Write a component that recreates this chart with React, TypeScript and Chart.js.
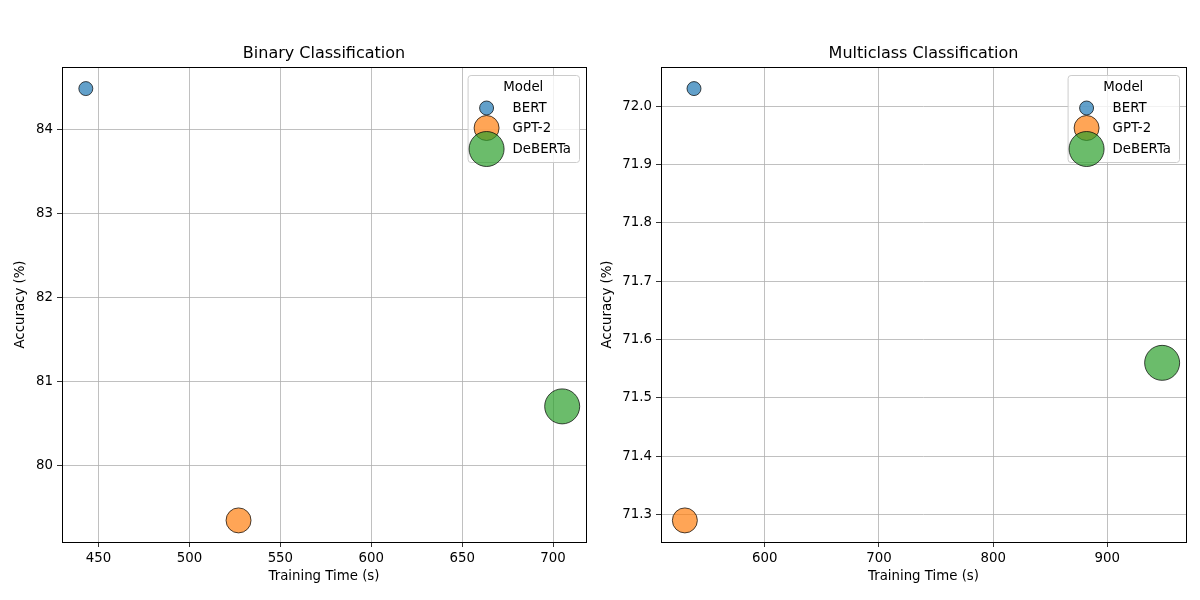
import React, { useEffect, useRef } from "react";
import { Chart, registerables } from "chart.js";

Chart.register(...registerables);

// ---------- data ----------
const models = ["BERT", "GPT-2", "DeBERTa"];
const binaryTime = [443, 527, 705];
const binaryAcc = [84.49, 79.34, 80.7];
const multiTime = [538, 530, 948];
const multiAcc = [72.03, 71.29, 71.56];
const binaryXTicksStep = 50;
const binaryYTicksStep = 1;
const multiXTicksStep = 100;
const multiYTicksStep = 0.1;

// ---------- style ----------
const FONT = '"DejaVu Sans", Verdana, sans-serif';
const fillColors = ["rgba(31,119,180,0.7)", "rgba(255,127,14,0.7)", "rgba(44,160,44,0.7)"];
const edgeColor = "rgba(0,0,0,0.7)";
const markerRadii = [7, 12.5, 17.5];

function paddedRange(vals: number[]) {
  const lo = Math.min(...vals);
  const hi = Math.max(...vals);
  const m = (hi - lo) * 0.05;
  return [lo - m, hi + m];
}

function decorPlugin(title: string, legendTitle: string) {
  return {
    id: "mplDecor",
    afterDraw(chart: any) {
      const { ctx, chartArea: a } = chart;
      ctx.save();
      // frame
      ctx.strokeStyle = "#000";
      ctx.lineWidth = 1;
      ctx.strokeRect(Math.round(a.left) + 0.5, Math.round(a.top) + 0.5, Math.round(a.right - a.left), Math.round(a.bottom - a.top));
      // title
      ctx.fillStyle = "#000";
      ctx.font = `16px ${FONT}`;
      ctx.textAlign = "center";
      ctx.textBaseline = "alphabetic";
      ctx.fillText(title, (a.left + a.right) / 2, a.top - 9);
      // legend
      const right = a.right - 7;
      const top = a.top + 8;
      ctx.font = `13.33px ${FONT}`;
      const labels = chart.data.datasets.map((d: any) => d.label);
      const maxW = Math.max(...labels.map((l: string) => ctx.measureText(l).width));
      const w = 45 + maxW + 8;
      const h = 87;
      const left = right - w;
      ctx.beginPath();
      ctx.roundRect(left + 0.5, top + 0.5, w, h, 3);
      ctx.fillStyle = "rgba(255,255,255,0.8)";
      ctx.fill();
      ctx.strokeStyle = "#cccccc";
      ctx.lineWidth = 1;
      ctx.stroke();
      ctx.fillStyle = "#000";
      ctx.textAlign = "center";
      ctx.fillText(legendTitle, left + w / 2, top + 16);
      const rows = [33, 53, 74];
      chart.data.datasets.forEach((d: any, i: number) => {
        const cy = top + rows[i];
        const cx = left + 19;
        ctx.beginPath();
        ctx.arc(cx, cy, d.pointRadius, 0, Math.PI * 2);
        ctx.fillStyle = d.backgroundColor;
        ctx.fill();
        ctx.strokeStyle = d.borderColor;
        ctx.lineWidth = 1;
        ctx.stroke();
      });
      ctx.fillStyle = "#000";
      ctx.textAlign = "left";
      ctx.textBaseline = "middle";
      chart.data.datasets.forEach((d: any, i: number) => {
        ctx.fillText(d.label, left + 45, top + rows[i] + 1);
      });
      ctx.restore();
    },
  };
}

function makeConfig(
  title: string,
  xs: number[],
  ys: number[],
  xStep: number,
  yStep: number,
  yDecimals: number,
  padLeft: number,
  padRight: number,
  yWidth: number
): any {
  const [xmin, xmax] = paddedRange(xs);
  const [ymin, ymax] = paddedRange(ys);
  const tickFont = { family: FONT, size: 13.33 };
  return {
    type: "scatter",
    data: {
      datasets: models.map((m, i) => ({
        label: m,
        data: [{ x: xs[i], y: ys[i] }],
        pointRadius: markerRadii[i],
        pointHoverRadius: markerRadii[i],
        backgroundColor: fillColors[i],
        borderColor: edgeColor,
        borderWidth: 1,
        clip: false,
      })),
    },
    options: {
      responsive: false,
      animation: false,
      devicePixelRatio: 1,
      layout: { autoPadding: false, padding: { top: 67, right: padRight, bottom: 15, left: padLeft } },
      plugins: { legend: { display: false }, title: { display: false }, tooltip: { enabled: false } },
      scales: {
        x: {
          type: "linear",
          min: xmin,
          max: xmax,
          afterFit: (s: any) => {
            s.height = 43;
            s.paddingLeft = 0;
            s.paddingRight = 0;
          },
          border: { display: false },
          grid: { color: "#b0b0b0", lineWidth: 0.8, tickLength: 5, tickColor: "#000", drawTicks: true },
          ticks: {
            stepSize: xStep,
            includeBounds: false,
            padding: 4,
            color: "#000",
            font: tickFont,
            maxRotation: 0,
            callback: (v: any) => String(Math.round(Number(v))),
          },
          title: { display: true, text: "Training Time (s)", color: "#000", font: tickFont, padding: { top: 0, bottom: 0 } },
        },
        y: {
          type: "linear",
          min: ymin,
          max: ymax,
          afterFit: (s: any) => {
            s.width = yWidth;
            s.paddingTop = 0;
            s.paddingBottom = 0;
          },
          border: { display: false },
          grid: { color: "#b0b0b0", lineWidth: 0.8, tickLength: 5, tickColor: "#000", drawTicks: true },
          ticks: {
            stepSize: yStep,
            includeBounds: false,
            padding: 4,
            color: "#000",
            font: tickFont,
            callback: (v: any) => Number(v).toFixed(yDecimals),
          },
          title: { display: true, text: "Accuracy (%)", color: "#000", font: tickFont, padding: { top: 0, bottom: 0 } },
        },
      },
    },
    plugins: [decorPlugin(title, "Model")],
  };
}

function ChartCanvas({ config }: { config: any }) {
  const ref = useRef<HTMLCanvasElement | null>(null);
  useEffect(() => {
    if (!ref.current) return;
    const chart = new Chart(ref.current, config);
    return () => chart.destroy();
  }, [config]);
  return <canvas ref={ref} width={600} height={600} style={{ width: 600, height: 600, display: "block" }} />;
}

const leftConfig = makeConfig("Binary Classification", binaryTime, binaryAcc, binaryXTicksStep, binaryYTicksStep, 0, 13, 14, 49);
const rightConfig = makeConfig("Multiclass Classification", multiTime, multiAcc, multiXTicksStep, multiYTicksStep, 1, 0, 14, 61);

export default function App() {
  return (
    <div style={{ position: "fixed", left: 0, top: 0, width: 1200, height: 600, background: "#fff", display: "flex" }}>
      <ChartCanvas config={leftConfig} />
      <ChartCanvas config={rightConfig} />
    </div>
  );
}
